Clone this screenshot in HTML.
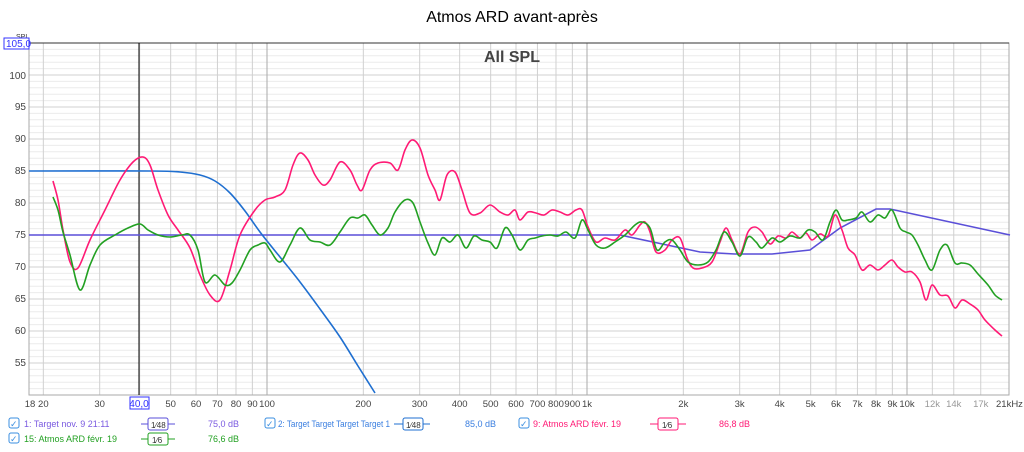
<!DOCTYPE html>
<html><head><meta charset="utf-8"><style>
body{margin:0;background:#fff;width:1024px;height:447px;overflow:hidden;font-family:"Liberation Sans",sans-serif}
</style></head><body>
<svg width="1024" height="447" xmlns="http://www.w3.org/2000/svg" font-family="Liberation Sans, sans-serif">
<text x="512" y="22" font-size="16" text-anchor="middle" fill="#000">Atmos ARD avant-après</text>
<g id="grid"></g>
<rect x="29" y="43" width="980" height="352" fill="none" stroke="#aaa"/>
<line x1="29" y1="43" x2="1009" y2="43" stroke="#333"/>
<text x="512" y="62" font-size="16" font-weight="bold" text-anchor="middle" fill="#444">All SPL</text>
<line x1="139" y1="43" x2="139" y2="395" stroke="#000"/>
<text x="16" y="39" font-size="7" fill="#333">SPL</text>
<rect x="4" y="38" width="25" height="11" fill="#fff" stroke="#3333ff"/>
<text x="6" y="47" font-size="10" fill="#3333ff">105,0</text>
<g font-size="10" fill="#444" text-anchor="end">
<text x="26" y="79">100</text><text x="26" y="110">95</text><text x="26" y="142">90</text><text x="26" y="174">85</text>
<text x="26" y="206">80</text><text x="26" y="238">75</text><text x="26" y="270">70</text><text x="26" y="302">65</text>
<text x="26" y="334">60</text><text x="26" y="366">55</text>
</g>
<g id="xl" font-size="10" fill="#444" text-anchor="middle"></g>
<rect x="130" y="397" width="19" height="12" fill="#fff" stroke="#3333ff"/>
<text x="139" y="407" font-size="10" fill="#3333ff" text-anchor="middle">40,0</text>
<path id="p1" fill="none" stroke="#5a4fd8" stroke-width="1.6"/>
<path id="p2" fill="none" stroke="#1f6fd0" stroke-width="1.6"/>
<path id="p3" fill="none" stroke="#ff1a75" stroke-width="1.6"/>
<path id="p4" fill="none" stroke="#22a022" stroke-width="1.6"/>
<g font-size="9">
<rect x="9" y="418" width="10" height="10" rx="2" fill="#fff" stroke="#3b8fe0"/><text x="10" y="427" fill="#3b8fe0" font-size="9">✓</text>
<text x="24" y="427" fill="#7a5ae0">1: Target nov. 9 21:11</text>
<line x1="141" y1="424" x2="175" y2="424" stroke="#5a4fd8"/><rect x="148" y="418" width="20" height="12" rx="2" fill="#fff" stroke="#5a4fd8"/><text x="151" y="428" fill="#333" font-size="8">1⁄48</text>
<text x="208" y="427" fill="#7a5ae0">75,0 dB</text>
<rect x="265" y="418" width="10" height="10" rx="2" fill="#fff" stroke="#3b8fe0"/><text x="266" y="427" fill="#3b8fe0">✓</text>
<text x="278" y="427" fill="#3b7fe0" textLength="112" lengthAdjust="spacingAndGlyphs">2: Target Target Target Target 1</text>
<line x1="394" y1="424" x2="430" y2="424" stroke="#1f6fd0"/><rect x="403" y="418" width="20" height="12" rx="2" fill="#fff" stroke="#1f6fd0"/><text x="406" y="428" fill="#333" font-size="8">1⁄48</text>
<text x="465" y="427" fill="#3b7fe0">85,0 dB</text>
<rect x="519" y="418" width="10" height="10" rx="2" fill="#fff" stroke="#3b8fe0"/><text x="520" y="427" fill="#3b8fe0">✓</text>
<text x="533" y="427" fill="#ff1a75">9: Atmos ARD févr. 19</text>
<line x1="650" y1="424" x2="686" y2="424" stroke="#ff1a75"/><rect x="658" y="418" width="20" height="12" rx="2" fill="#fff" stroke="#ff1a75"/><text x="662" y="428" fill="#333" font-size="8">1⁄6</text>
<text x="719" y="427" fill="#ff1a75">86,8 dB</text>
<rect x="9" y="433" width="10" height="10" rx="2" fill="#fff" stroke="#3b8fe0"/><text x="10" y="442" fill="#3b8fe0">✓</text>
<text x="24" y="442" fill="#22a022">15: Atmos ARD févr. 19</text>
<line x1="141" y1="439" x2="175" y2="439" stroke="#22a022"/><rect x="148" y="433" width="20" height="12" rx="2" fill="#fff" stroke="#22a022"/><text x="152" y="443" fill="#333" font-size="8">1⁄6</text>
<text x="208" y="442" fill="#22a022">76,6 dB</text>
</g>
</svg>
<script>
var ns="http://www.w3.org/2000/svg",g=document.getElementById("grid"),xl=document.getElementById("xl");
function L(x1,y1,x2,y2,c){var l=document.createElementNS(ns,"line");l.setAttribute("x1",x1);l.setAttribute("y1",y1);l.setAttribute("x2",x2);l.setAttribute("y2",y2);l.setAttribute("stroke",c);g.appendChild(l);}
for(var d=50;d<=105;d++){var y=43+(105-d)*6.4;L(29,y,1009,y,d%5==0?"#d0d0d0":"#ececec");}
function X(f){return 587+320*Math.log10(f/1000);}
var fs=[20,30,40,50,60,70,80,90,100,200,300,400,500,600,700,800,900,1000,2000,3000,4000,5000,6000,7000,8000,9000,10000,12000,14000,17000];
fs.forEach(function(f){L(X(f),43,X(f),395,(f==100||f==1000||f==10000)?"#aaa":"#d0d0d0");});
var lab=[[18,"18"],[20,"20"],[30,"30"],[50,"50"],[60,"60"],[70,"70"],[80,"80"],[90,"90"],[100,"100"],[200,"200"],[300,"300"],[400,"400"],[500,"500"],[600,"600"],[700,"700"],[800,"800"],[900,"900"],[1000,"1k"],[2000,"2k"],[3000,"3k"],[4000,"4k"],[5000,"5k"],[6000,"6k"],[7000,"7k"],[8000,"8k"],[9000,"9k"],[10000,"10k"],[12000,"12k"],[14000,"14k"],[17000,"17k"],[21000,"21kHz"]];
lab.forEach(function(a){var t=document.createElementNS(ns,"text");var x=X(a[0]);var fsz=9.5;
if(a[0]==21000){x=996;t.setAttribute("text-anchor","start");}
if(a[0]==18)x=30;
t.setAttribute("x",x);t.setAttribute("y",407);t.setAttribute("font-size",fsz);
if(a[0]>=12000&&a[0]<=17000)t.setAttribute("fill","#999");t.textContent=a[1];xl.appendChild(t);});
function P(s){var a=s.trim().split(/\s+/).map(function(p){return p.split(",").map(Number);});return a;}
function smooth(pts){var d="M"+pts[0][0]+","+pts[0][1];for(var i=0;i<pts.length-1;i++){var p0=pts[i-1]||pts[i],p1=pts[i],p2=pts[i+1],p3=pts[i+2]||p2;
var c1x=p1[0]+(p2[0]-p0[0])/6,c1y=p1[1]+(p2[1]-p0[1])/6,c2x=p2[0]-(p3[0]-p1[0])/6,c2y=p2[1]-(p3[1]-p1[1])/6;
d+=" C"+c1x.toFixed(1)+","+c1y.toFixed(1)+" "+c2x.toFixed(1)+","+c2y.toFixed(1)+" "+p2[0]+","+p2[1];}return d;}
function poly(pts){return "M"+pts.map(function(p){return p.join(",");}).join(" L");}
document.getElementById("p1").setAttribute("d",poly(P("29,235 620,235 700,252 735,254 772,254 810,250 840,228 876,209 890,209 1010,235")));
document.getElementById("p2").setAttribute("d",smooth(P("29,171 150,171 180,172 200,175 215,181 230,193 245,211 260,232 280,257 300,282 320,309 340,337 358,366 375,393")));
document.getElementById("p3").setAttribute("d",smooth(P("53,181 58,200 63,230 70,262 78,268 90,240 105,210 120,180 133,162 143,157 150,165 158,190 168,215 178,230 190,248 200,275 210,295 220,300 230,270 240,235 255,210 265,200 275,197 285,190 293,165 300,153 308,160 315,175 323,185 330,180 340,162 350,170 357,185 362,190 370,170 378,163 390,163 398,170 405,150 412,140 420,148 428,175 435,190 440,200 447,175 455,172 462,190 470,213 480,213 490,205 500,212 508,215 515,210 520,220 528,212 536,213 544,215 552,210 560,212 568,215 576,210 582,210 588,227 596,242 605,238 615,240 625,230 632,235 640,225 645,222 650,232 656,252 665,250 672,240 680,238 687,258 693,268 702,268 712,262 720,242 726,228 732,240 740,254 748,232 755,227 762,232 770,244 778,236 786,238 792,232 800,238 806,233 812,240 820,234 828,236 835,215 842,230 848,248 855,255 862,270 870,265 878,270 885,265 892,260 898,267 905,272 912,272 920,282 926,300 932,285 940,295 948,296 955,308 962,300 970,304 978,310 985,320 995,330 1002,336")));
document.getElementById("p4").setAttribute("d",smooth(P("53,197 58,210 63,232 70,255 80,290 90,265 100,245 115,235 128,228 140,224 148,230 158,235 170,237 182,235 190,235 198,250 205,282 215,275 225,285 232,283 240,270 250,250 258,245 265,243 270,250 280,262 290,245 300,228 310,240 320,242 330,245 340,232 350,218 358,218 365,215 372,225 380,235 388,228 395,212 405,200 413,203 420,222 428,243 435,255 442,238 450,242 458,235 466,248 474,236 482,240 490,242 497,248 505,228 512,235 520,250 528,240 535,238 542,236 550,235 558,236 566,232 575,238 582,220 588,230 596,245 605,248 615,242 625,235 635,225 642,222 650,228 657,250 665,242 672,240 680,250 688,262 698,265 708,262 716,250 724,232 732,242 740,256 748,237 756,242 762,248 772,238 780,242 790,236 800,238 808,230 815,232 823,240 830,222 836,210 842,220 848,220 856,218 862,212 870,222 878,215 885,218 892,210 900,228 906,232 912,235 918,245 925,260 932,270 940,250 947,245 955,263 962,263 970,265 978,274 988,285 995,295 1002,300")));
</script>
</body></html>
